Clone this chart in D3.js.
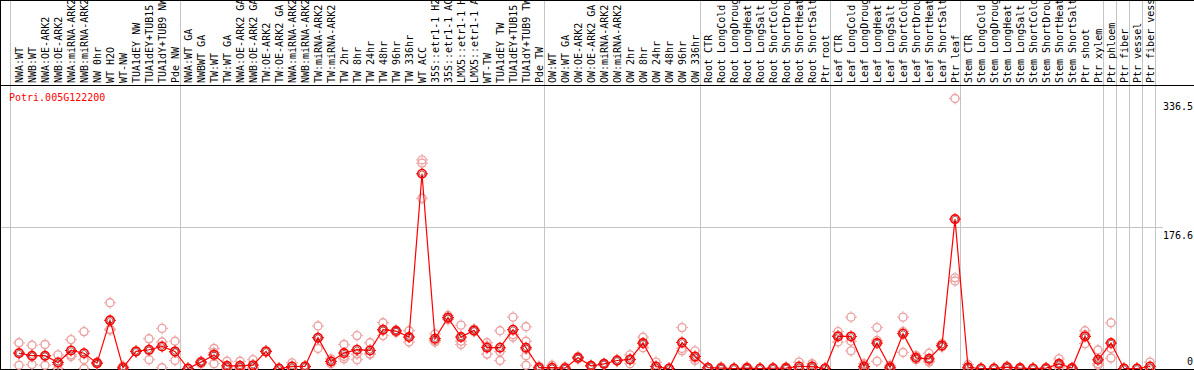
<!DOCTYPE html>
<html>
<head>
<meta charset="utf-8">
<script src="https://cdn.jsdelivr.net/npm/d3@7"></script>
<style>
  body { margin: 0; background: #fff; }
  svg { display: block; font-family: "DejaVu Sans Mono", monospace; font-size: 10px; }
  .sep { stroke: #c4c4c4; stroke-width: 1; }
  .frame { stroke: #000; stroke-width: 1; }
</style>
</head>
<body>
<svg id="chart" width="1194" height="370"></svg>
<script>
// gene shown
var gene = "Potri.005G122200";

// sample names, one per column
var labels = [
  "NWA:WT", "NWB:WT", "NWA:OE-ARK2", "NWB:OE-ARK2", "NWA:miRNA-ARK2", "NWB:miRNA-ARK2",
  "NW 0hr", "WT H2O", "WT-NW", "TUA1dEY NW", "TUA1dEY+TUB15", "TUA1dY+TUB9 NW", "Pde NW",
  "NWA:WT GA", "NWBWT GA", "TW:WT", "TW:WT GA", "NWA:OE-ARK2 GA", "NWB:OE-ARK2 GA",
  "TW:OE-ARK2", "TW:OE-ARK2 GA", "NWA:miRNA-ARK2", "NWB:miRNA-ARK2", "TW:miRNA-ARK2", "TW:miRNA-ARK2",
  "TW 2hr", "TW 8hr", "TW 24hr", "TW 48hr", "TW 96hr", "TW 336hr", "WT ACC",
  "35S::etr1-1 H2O", "35S::etr1-1 ACC", "LMX5::etr1-1 H2O", "LMX5::etr1-1 ACC",
  "WT-TW", "TUA1dEY TW", "TUA1dEY+TUB15", "TUA1dY+TUB9 TW", "Pde TW",
  "OW:WT", "OW:WT GA", "OW:OE-ARK2", "OW:OE-ARK2 GA", "OW:miRNA-ARK2", "OW:miRNA-ARK2",
  "OW 2hr", "OW 8hr", "OW 24hr", "OW 48hr", "OW 96hr", "OW 336hr",
  "Root CTR", "Root LongCold", "Root LongDrought", "Root LongHeat", "Root LongSalt",
  "Root ShortCold", "Root ShortDrought", "Root ShortHeat", "Root ShortSalt", "Ptr root",
  "Leaf CTR", "Leaf LongCold", "Leaf LongDrought", "Leaf LongHeat", "Leaf LongSalt",
  "Leaf ShortCold", "Leaf ShortDrought", "Leaf ShortHeat", "Leaf ShortSalt", "Ptr leaf",
  "Stem CTR", "Stem LongCold", "Stem LongDrought", "Stem LongHeat", "Stem LongSalt",
  "Stem ShortCold", "Stem ShortDrought", "Stem ShortHeat", "Stem ShortSalt", "Ptr shoot",
  "Ptr xylem", "Ptr phloem", "Ptr fiber", "Ptr vessel", "Ptr fiber vessel"
];

// mean expression per column
var means = [
  19, 16, 16, 7.5, 22.5, 19, 6.7, 60, 1, 21.3, 23.4, 27.5, 21.3,
  0, 7.9, 17, 3.3, 3.3, 4.2, 21.3, 0, 2.5, 2.5, 38.4, 8.8, 19.2, 23.4, 22.5,
  48.4, 46.7, 39.2, 242.7, 37.1, 63.4, 39.2, 47.5, 25.9, 25.9, 48.4, 25.9, 1,
  1, 0.4, 13.3, 3.3, 5.8, 10, 11.3, 31.7, 2.5, 0, 32.5, 15,
  1, 0.4, 0, 0.5, 0, 0.3, 0.5, 2.5, 2.5, 0,
  40, 40, 2.5, 31.7, 1.5, 43.4, 13.3, 12, 28.8, 186.2,
  1.5, 0, 0, 1.7, 0.5, 0, 0.4, 5.8, 0.5, 40, 10.8,
  31.7, 0, 0, 2.5
];

// replicate values per column
var reps = [
  [32, 20, 4], [29, 15, 5], [30, 15, 4], [17, 5, 0], [36, 17, 15], [46, 11, 0],
  [8, 6, 6], [82, 49, 48], [3, 0, 0], [22, 21, 21], [37, 22, 11], [50, 33, 1], [34, 20, 10],
  [0, 0, 0], [9, 8, 6], [25, 20, 6], [9, 1, 0], [9, 1, 0], [11, 1, 0], [22, 21, 21],
  [0, 0, 0], [7, 0, 0], [3, 2, 2], [53, 38, 25], [12, 9, 6], [30, 15, 12], [41, 18, 11],
  [32, 18, 18], [57, 47, 41], [48, 47, 45], [47, 39, 33], [260, 256, 212], [43, 35, 33],
  [66, 63, 61], [54, 34, 30], [49, 47, 46], [32, 28, 18], [47, 21, 10], [64, 42, 39],
  [52, 34, 24, 16, 4], [3, 0, 0],
  [4, 0, 0], [2, 0, 0], [15, 13, 12], [4, 3, 3], [6, 6, 5], [11, 10, 9], [17, 11, 6],
  [39, 31, 26], [8, 0, 0], [0, 0, 0], [51, 25, 22], [22, 13, 10],
  [1, 1, 0], [2, 0, 0], [0, 0, 0], [2, 0, 0], [0, 0, 0], [1, 0, 0], [2, 0, 0], [8, 0, 0],
  [6, 1, 0], [0, 0, 0],
  [46, 41, 33], [64, 34, 22], [6, 1, 0], [51, 35, 9], [4, 0, 0], [64, 46, 20], [16, 13, 11],
  [19, 9, 8], [31, 28, 27], [336.5, 113, 109],
  [5, 1, 0], [0, 0, 0], [0, 0, 0], [3, 2, 0], [1, 0, 0], [0, 0, 0], [1, 0, 0], [12, 5, 1],
  [1, 0, 0], [47, 42, 31], [23, 6, 4],
  [57, 25, 13], [0, 0, 0], [0, 0, 0], [8, 0, 0]
];

// last column (1-based) of each sample group
var groupEnds = [13, 41, 53, 63, 73, 84, 85, 86, 87, 88];

var yTicks = [336.5, 176.6, 0];

var W = 1194, H = 370;
var svg = d3.select('#chart');

var x = d3.scaleBand()
    .domain(d3.range(labels.length))
    .range([10, 10 + 13 * labels.length])
    .padding(0);
var cx = function(i) { return x(i) + 9; };

var y = d3.scaleLinear()
    .domain([0, 336.5])
    .range([368.5, 98.5]);

svg.append('rect').attr('width', W).attr('height', H).attr('fill', '#fff');

//group separators, full height
svg.append('line').attr('class', 'sep')
    .attr('x1', x(0) + 0.5).attr('x2', x(0) + 0.5)
    .attr('y1', 0).attr('y2', H);
svg.selectAll('line.grp')
    .data(groupEnds)
  .enter().append('line')
    .attr('class', 'sep grp')
    .attr('x1', function(d) { return x(d - 1) + x.bandwidth() + 1.5; })
    .attr('x2', function(d) { return x(d - 1) + x.bandwidth() + 1.5; })
    .attr('y1', 0).attr('y2', H);

//middle horizontal grid line
svg.selectAll('line.hgrid')
    .data(yTicks.filter(function(d) { return d > 0 && d < 336.5; }))
  .enter().append('line')
    .attr('class', 'sep hgrid')
    .attr('x1', 0).attr('x2', 1163)
    .attr('y1', function(d) { return Math.round(y(d)) + 0.5; })
    .attr('y2', function(d) { return Math.round(y(d)) + 0.5; });

//tick values on the right
svg.selectAll('text.ytick')
    .data(yTicks)
  .enter().append('text')
    .attr('class', 'ytick')
    .attr('x', 1193)
    .attr('y', function(d) { return Math.min(y(d) + 4, 357); })
    .attr('dy', '0.78em')
    .attr('text-anchor', 'end')
    .attr('fill', '#000')
    .text(function(d) { return d; });

//column labels, rotated
svg.selectAll('text.col')
    .data(labels)
  .enter().append('text')
    .attr('class', 'col')
    .attr('transform', function(d, i) { return 'translate(' + (cx(i) + 0.5) + ',83) rotate(-90)'; })
    .attr('dy', '0.35em')
    .attr('text-anchor', 'start')
    .attr('fill', '#000')
    .text(function(d) { return d; });

//frame
svg.append('line').attr('class', 'frame').attr('x1', 0).attr('x2', W).attr('y1', 0.5).attr('y2', 0.5);
svg.append('line').attr('class', 'frame').attr('x1', 0).attr('x2', W).attr('y1', 85.5).attr('y2', 85.5);
svg.append('line').attr('class', 'frame').attr('x1', 0).attr('x2', W).attr('y1', 369.5).attr('y2', 369.5);
svg.append('line').attr('class', 'frame').attr('x1', 0.5).attr('x2', 0.5).attr('y1', 0).attr('y2', H);

svg.append('text')
    .attr('x', 9).attr('y', 97)
    .attr('dy', '0.35em')
    .attr('fill', '#ff0000')
    .text(gene);

var stub = 'M0,-4.5v-1.5M0,4.5v1.5M-4.5,0h-1.5M4.5,0h1.5';

//replicates
var repPts = [];
reps.forEach(function(r, i) { r.forEach(function(v) { repPts.push({i: i, v: v}); }); });

var rg = svg.selectAll('g.rep')
    .data(repPts)
  .enter().append('g')
    .attr('class', 'rep')
    .attr('transform', function(d) { return 'translate(' + cx(d.i) + ',' + y(d.v) + ')'; });
rg.append('circle').attr('r', 4).attr('fill', 'none').attr('stroke', '#eba0a0').attr('stroke-width', 1.4);
rg.append('path').attr('d', stub).attr('stroke', '#eba0a0').attr('stroke-width', 1);

//mean line
svg.append('path')
    .datum(means)
    .attr('fill', 'none')
    .attr('stroke', '#ff0000')
    .attr('stroke-width', 1.2)
    .attr('d', d3.line()
        .x(function(d, i) { return cx(i); })
        .y(function(d) { return y(d); }));

var mg = svg.selectAll('g.mean')
    .data(means)
  .enter().append('g')
    .attr('class', 'mean')
    .attr('transform', function(d, i) { return 'translate(' + cx(i) + ',' + y(d) + ')'; });
mg.append('circle').attr('r', 4.2).attr('fill', 'none').attr('stroke', '#ff0000').attr('stroke-width', 1.6);
mg.append('circle').attr('r', 2.8).attr('fill', 'none').attr('stroke', '#600').attr('stroke-width', 0.6);
mg.append('path').attr('d', stub).attr('stroke', '#ff0000').attr('stroke-width', 1);
</script>
</body>
</html>
